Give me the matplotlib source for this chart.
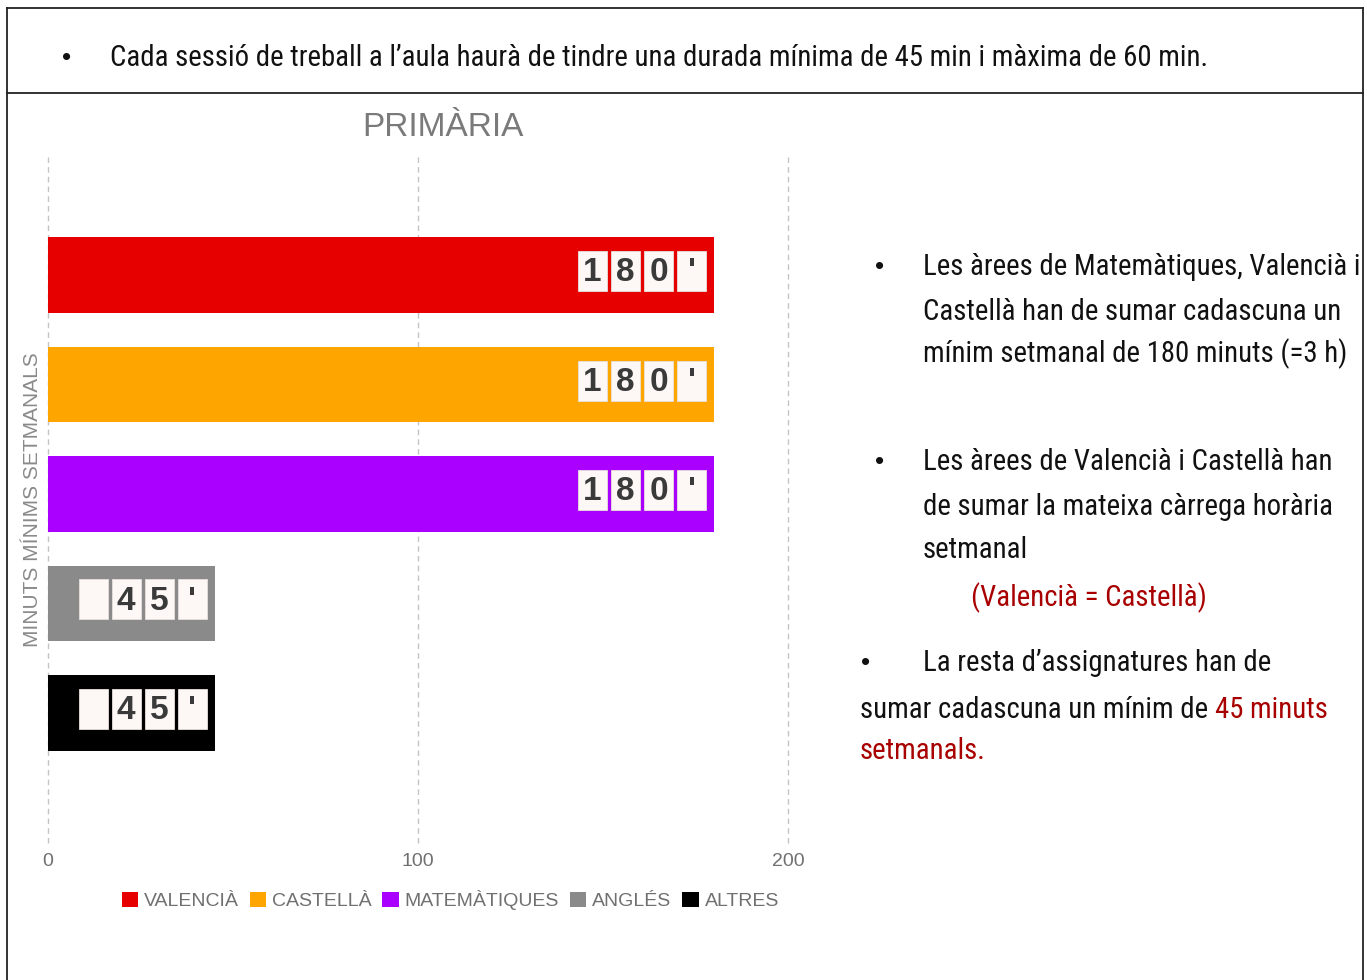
import matplotlib
matplotlib.use("Agg")
import matplotlib.pyplot as plt
from matplotlib import font_manager
from matplotlib.patches import Rectangle
from matplotlib.lines import Line2D

# --- data ---
categories = ["VALENCIÀ", "CASTELLÀ", "MATEMÀTIQUES", "ANGLÉS", "ALTRES"]
minutes = [180, 180, 180, 45, 45]
colors = ["#e60000", "#ffa500", "#aa00ff", "#8a8a8a", "#000000"]
xticks = [0, 100, 200]

title = "PRIMÀRIA"
ylabel = "MINUTS MÍNIMS SETMANALS"
top_note = "Cada sessió de treball a l’aula haurà de tindre una durada mínima de 45 min i màxima de 60 min."

# pick a narrow face if one exists (deterministic order)
names = sorted({f.name for f in font_manager.fontManager.ttflist})
preferred = ["Liberation Sans Narrow", "Arial Narrow", "Roboto Condensed",
             "Noto Sans Condensed", "Open Sans Condensed"]
narrow = [n for n in preferred if n in names] + [n for n in names if "Narrow" in n or "Condensed" in n]
NARROW = narrow[0] if narrow else "Liberation Sans"
SANS = "Liberation Sans"
DARKRED = "#a80000"
INK = "#111111"

W, H = 1367, 980
fig = plt.figure(figsize=(W / 100, H / 100), dpi=100)

def fx(px): return px / W
def fy(py): return 1 - py / H

# page frame
for xs, ys in [((7, 1363), (8, 8)), ((7, 1363), (93, 93)), ((7, 7), (8, 980)), ((1363, 1363), (8, 980))]:
    fig.add_artist(Line2D([fx(x) for x in xs], [fy(y) for y in ys], color="#222222", lw=1.3))

# chart
ax = fig.add_axes([fx(48), fy(843), fx(788) - fx(48), fy(157) - fy(843)])
ypos = list(range(len(categories)))
ax.barh(ypos, minutes, height=0.69, color=colors)
ax.set_xlim(0, 200)
ax.set_ylim(5.19, -1.08)
ax.set_xticks(xticks)
ax.set_xticklabels([str(t) for t in xticks], color="#707070", fontsize=14, family=SANS)
ax.tick_params(axis="x", length=0, pad=7)
ax.set_yticks([])
ax.xaxis.grid(True, linestyle=(0, (4, 3)), color="#c4c4c4", lw=1)
for gl in ax.get_xgridlines():
    gl.set_clip_on(False)
ax.set_axisbelow(True)
for s in ax.spines.values():
    s.set_visible(False)

# counter style value labels
px_per_unit = 740 / 200
box_w = 29 / px_per_unit
gap = 4 / px_per_unit
box_h = 40 / 109.5
for i, v in enumerate(minutes):
    chars = list(f"{v}'".rjust(4))
    right = v - 8 / px_per_unit
    yc = i - 4 / 109.5
    for k, ch in enumerate(reversed(chars)):
        x1 = right - k * (box_w + gap)
        x0 = x1 - box_w
        ax.add_patch(Rectangle((x0, yc - box_h / 2), box_w, box_h, facecolor="#fdf8f5",
                               edgecolor="#e8e0dc", lw=0.6, zorder=3))
        if ch.strip():
            ax.text(x0 + box_w / 2, yc + 0.015, ch, ha="center", va="center", fontsize=24,
                    fontweight="bold", color="#3a3a3a", family=SANS, zorder=4)

# legend
handles = [Rectangle((0, 0), 1, 1, facecolor=c) for c in colors]
leg = fig.legend(handles, categories, loc="center left", bbox_to_anchor=(fx(104), fy(900)),
                 ncol=5, frameon=False, handlelength=0.85, handleheight=0.85,
                 handletextpad=0.3, columnspacing=0.55, prop={"family": SANS, "size": 14})
for t in leg.get_texts():
    t.set_color("#707070")

fig.text(fx(443), fy(128), title, ha="center", va="center", fontsize=24, color="#7a7a7a", family=SANS)
fig.text(fx(33), fy(500), ylabel, ha="center", va="center", rotation=90, fontsize=15,
         color="#8a8a8a", family=SANS)

# texts: the reference uses a narrow face, so fit the size to the measured widths
renderer = fig.canvas.get_renderer()

def fit_size(txt, width_px, size=21):
    t = fig.text(0, 0, txt, fontsize=size, family=NARROW)
    w = t.get_window_extent(renderer).width
    t.remove()
    return size * width_px / w

def line(x, y, parts, size):
    for txt, col in parts:
        t = fig.text(fx(x), fy(y), txt, ha="left", va="center", fontsize=size, color=col, family=NARROW)
        x += t.get_window_extent(renderer).width

def bullet(x, y):
    fig.text(fx(x), fy(y), "•", ha="center", va="center", fontsize=19, color=INK, family=SANS)

top_size = fit_size(top_note, 1092)
body = fit_size("Les àrees de Matemàtiques, Valencià i", 435)

bullet(67, 58)
line(110, 58, [(top_note, INK)], top_size)

bullet(880, 267)
line(923, 267, [("Les àrees de Matemàtiques, Valencià i", INK)], body)
line(923, 312, [("Castellà han de sumar cadascuna un", INK)], body)
line(923, 354, [("mínim setmanal de 180 minuts (=3 h)", INK)], body)

bullet(880, 462)
line(923, 462, [("Les àrees de Valencià i Castellà han", INK)], body)
line(923, 507, [("de sumar la mateixa càrrega horària", INK)], body)
line(923, 550, [("setmanal", INK)], body)
line(971, 598, [("(Valencià = Castellà)", DARKRED)], body)

bullet(866, 663)
line(923, 663, [("La resta d’assignatures han de", INK)], body)
line(860, 710, [("sumar cadascuna un mínim de ", INK), ("45 minuts", DARKRED)], body)
line(860, 751, [("setmanals.", DARKRED)], body)

fig.savefig("out.png", dpi=100, facecolor="white")
